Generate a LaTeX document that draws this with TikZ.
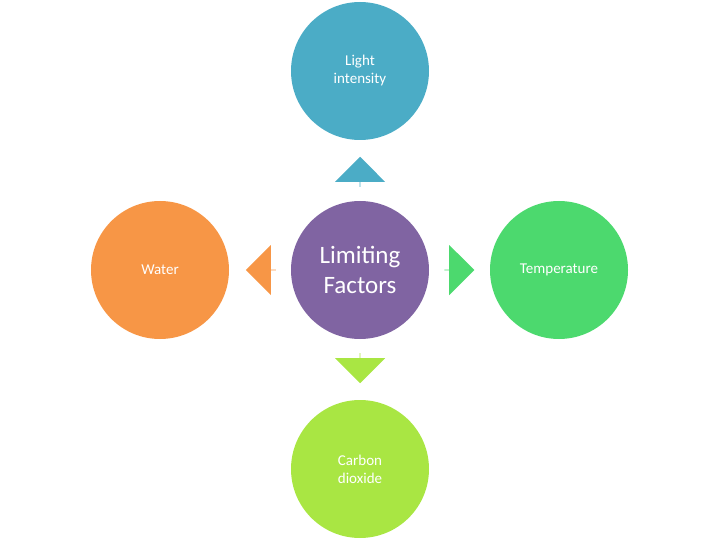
\documentclass[tikz,border=0pt]{standalone}
\usepackage{fontspec}
\setmainfont{Carlito}
\usetikzlibrary{shapes.arrows}
\definecolor{cpur}{HTML}{8064A2}
\definecolor{ctop}{HTML}{4BACC6}
\definecolor{cleft}{HTML}{F79646}
\definecolor{cright}{HTML}{4CD96E}
\definecolor{cbot}{HTML}{A9E643}
\begin{document}
\begin{tikzpicture}[x=1pt,y=-1pt,
  circ/.style={circle,minimum size=138pt,inner sep=0pt,text=white,align=center,font=\fontsize{15}{18}\selectfont},
  arr/.style={single arrow,single arrow head extend=10pt,minimum width=50pt,minimum height=30pt,inner sep=0pt,draw=none}]
\useasboundingbox (0,0) rectangle (720,540);
\node[circ,fill=cpur,font=\fontsize{25}{30}\selectfont] (c) at (360,270) {Limiting\\Factors};
\node[circ,fill=ctop] (t) at (360,71) {Light\\intensity};
\node[circ,fill=cleft] (l) at (160,270) {Water};
\node[circ,fill=cright] (r) at (559,270) {Temperature};
\node[circ,fill=cbot] (b) at (360,469) {Carbon\\dioxide};
\node[arr,fill=ctop,shape border rotate=90] (at) at (360,172) {};
\node[arr,fill=cleft,shape border rotate=180] (al) at (261,270) {};
\node[arr,fill=cright,shape border rotate=0] (ar) at (459,270) {};
\node[arr,fill=cbot,shape border rotate=270] (ab) at (360,368) {};
\end{tikzpicture}
\end{document}
